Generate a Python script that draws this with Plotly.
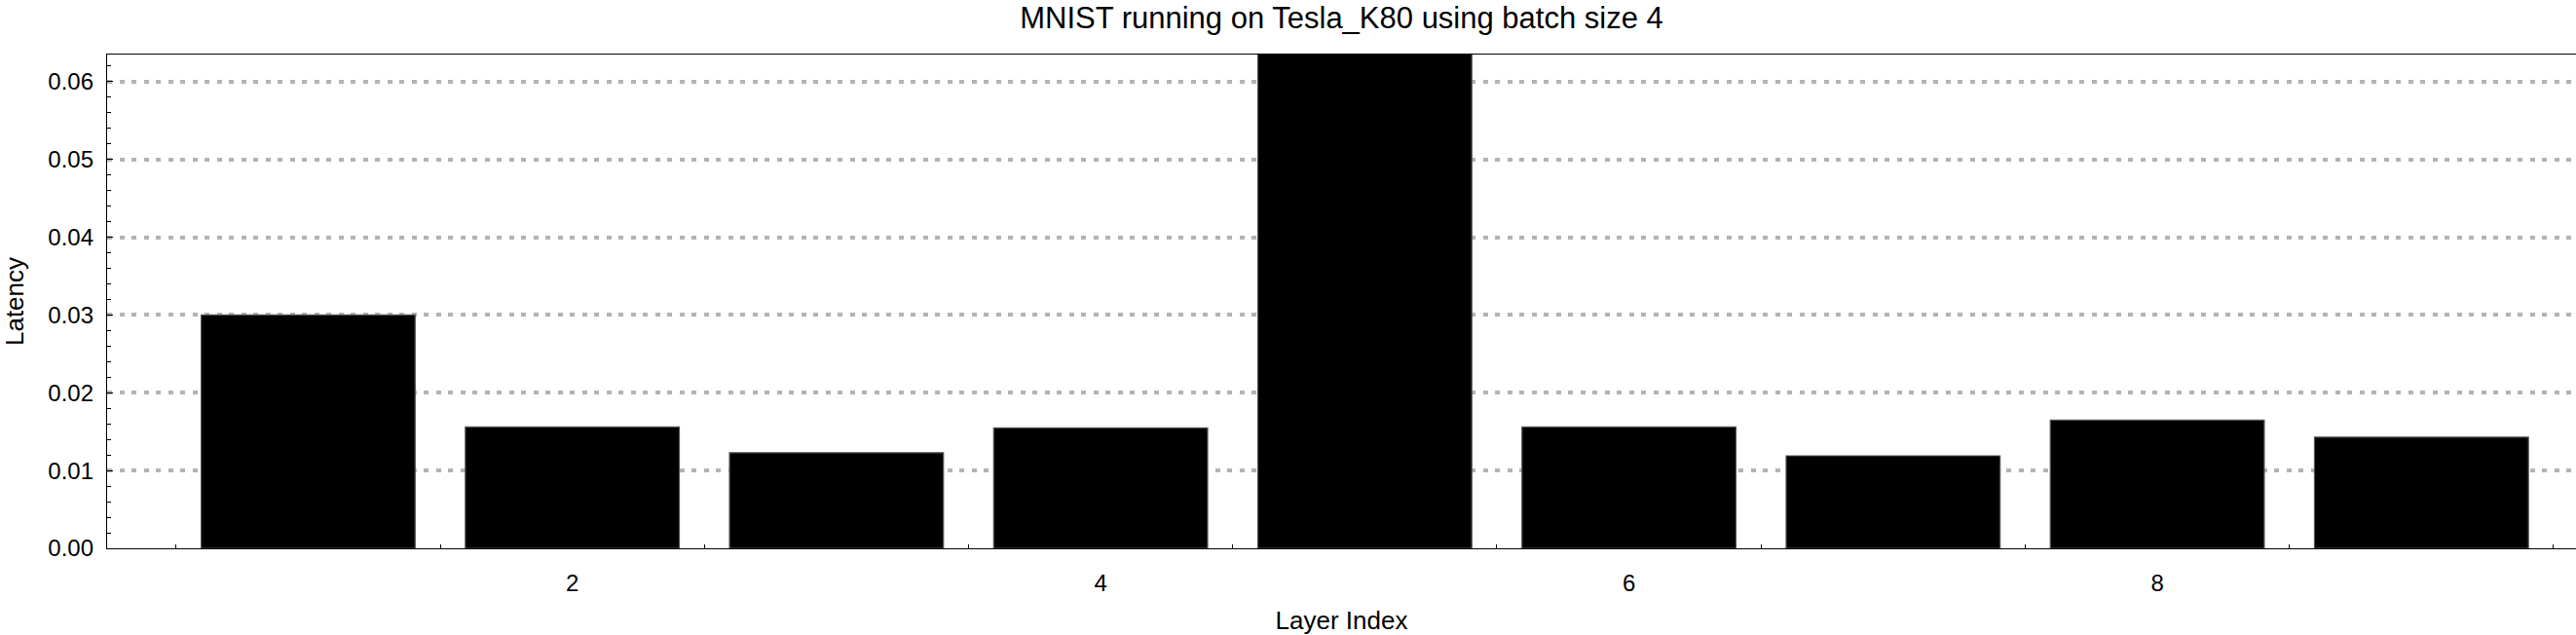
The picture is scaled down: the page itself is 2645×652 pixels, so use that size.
import plotly.graph_objects as go

layers = [1, 2, 3, 4, 5, 6, 7, 8, 9]
latency = [0.0300, 0.0156, 0.0123, 0.0155, 0.0750, 0.0156, 0.0119, 0.0165, 0.0143]
x_tick_vals = [2, 4, 6, 8]
x_tick_text = ["2", "4", "6", "8"]
x_minor_vals = [0.5, 1.5, 2.5, 3.5, 4.5, 5.5, 6.5, 7.5, 8.5, 9.5]
y_tick_vals = [0.00, 0.01, 0.02, 0.03, 0.04, 0.05, 0.06]
y_tick_text = ["0.00", "0.01", "0.02", "0.03", "0.04", "0.05", "0.06"]

FONT = "Liberation Sans, Arial, sans-serif"

fig = go.Figure(
    go.Bar(
        x=layers,
        y=latency,
        width=0.81,
        marker=dict(color="black", line=dict(color="#555555", width=1.2)),
    )
)

fig.update_layout(
    width=2645,
    height=652,
    paper_bgcolor="white",
    plot_bgcolor="white",
    margin=dict(l=110, r=0, t=56, b=89, autoexpand=False),
    showlegend=False,
    font=dict(family=FONT, color="black"),
    title=dict(
        text="MNIST running on Tesla_K80 using batch size 4",
        font=dict(family=FONT, size=31, color="black"),
        x=0.5,
        xref="paper",
        xanchor="center",
        y=1 - 18 / 652,
        yref="container",
        yanchor="middle",
    ),
)

fig.update_xaxes(
    range=[0.239, 9.585],
    showline=True,
    linecolor="black",
    linewidth=1.3,
    mirror=True,
    showgrid=False,
    zeroline=False,
    tickmode="array",
    tickvals=x_tick_vals,
    ticktext=x_tick_text,
    ticks="",
    tickfont=dict(family=FONT, size=24, color="black"),
    ticklabelstandoff=14,
    minor=dict(
        tickmode="array",
        tickvals=x_minor_vals,
        ticks="inside",
        ticklen=4,
        tickwidth=1,
        tickcolor="black",
        showgrid=False,
    ),
    title=dict(text="Layer Index", font=dict(family=FONT, size=26, color="black"), standoff=24),
)

fig.update_yaxes(
    range=[0, 0.0635],
    showline=True,
    linecolor="black",
    linewidth=1.3,
    mirror=False,
    zeroline=False,
    tickmode="array",
    tickvals=y_tick_vals,
    ticktext=y_tick_text,
    ticks="inside",
    ticklen=6,
    tickwidth=1,
    tickcolor="black",
    tickfont=dict(family=FONT, size=24, color="black"),
    ticklabelstandoff=8,
    showgrid=True,
    gridcolor="#b3b3b3",
    gridwidth=4,
    griddash="5px,7.5px",
    minor=dict(
        dtick=0.002,
        tick0=0,
        ticks="inside",
        ticklen=4,
        tickwidth=1,
        tickcolor="black",
        showgrid=False,
    ),
    title=dict(text="Latency", font=dict(family=FONT, size=26, color="black"), standoff=28),
)

fig.write_html(
    "out.html",
    config={"displayModeBar": False},
    post_script="document.body.style.margin='0';document.body.style.overflow='hidden';",
)
